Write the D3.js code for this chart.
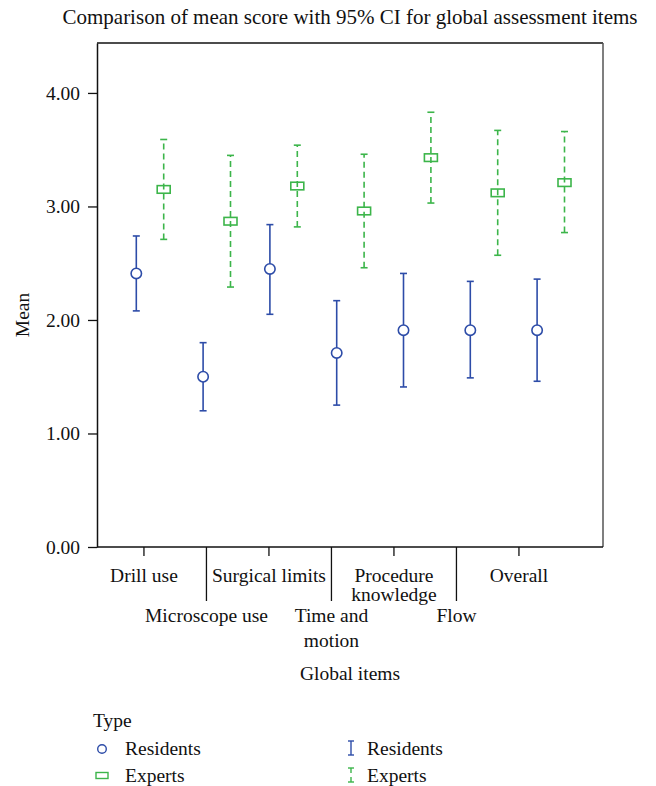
<!DOCTYPE html>
<html>
<head>
<meta charset="utf-8">
<script src="https://cdn.jsdelivr.net/npm/d3@7"></script>
<style>
  body { margin: 0; background: #fff; }
  text { font-family: "Liberation Serif", "DejaVu Serif", serif; fill: #111; }
</style>
</head>
<body>
<script>
// data
const items = ["Drill use", "Microscope use", "Surgical limits", "Time and motion",
  "Procedure knowledge", "Flow", "Overall"];
const itemLabels = [["Drill use"], ["Microscope use"], ["Surgical limits"], ["Time and", "motion"],
  ["Procedure", "knowledge"], ["Flow"], ["Overall"]];
const residentsMean = [2.41, 1.50, 2.45, 1.71, 1.91, 1.91, 1.91];
const residentsLow = [2.08, 1.20, 2.05, 1.25, 1.41, 1.49, 1.46];
const residentsHigh = [2.74, 1.80, 2.84, 2.17, 2.41, 2.34, 2.36];
const expertsMean = [3.15, 2.87, 3.18, 2.96, 3.43, 3.12, 3.21];
const expertsLow = [2.71, 2.29, 2.82, 2.46, 3.03, 2.57, 2.77];
const expertsHigh = [3.59, 3.45, 3.54, 3.46, 3.83, 3.67, 3.66];
const yTicks = [0, 1, 2, 3, 4];

const blue = "#2d4ca8";
const green = "#3cb54a";
const fs = "19.5px";

const width = 656;
const height = 786;
const plotLeft = 97, plotRight = 603, plotTop = 43, plotBottom = 547;

const svg = d3.select("body").append("svg")
  .attr("width", width)
  .attr("height", height);

// scales
const y = d3.scaleLinear().domain([0, 4.44]).range([plotBottom, plotTop]);
// marks sit on a slightly wider band than the axis labels (as in the original)
const xMarks = d3.scaleBand().domain(items).range([116.6, 584.2]);
const xAxis = d3.scaleBand().domain(items).range([112.7, 550.2]);
const offset = 13.7;

// title
svg.append("text")
  .attr("x", 350).attr("y", 24)
  .attr("text-anchor", "middle")
  .style("font-size", "21px")
  .text("Comparison of mean score with 95% CI for global assessment items");

// frame
svg.append("line").attr("x1", plotLeft).attr("x2", plotRight).attr("y1", plotTop).attr("y2", plotTop)
  .attr("stroke", "#111").attr("stroke-width", 1.5);
svg.append("line").attr("x1", plotRight).attr("x2", plotRight).attr("y1", plotTop).attr("y2", plotBottom)
  .attr("stroke", "#555").attr("stroke-width", 1.5);

// y axis
const yAxisG = svg.append("g").attr("transform", `translate(${plotLeft},0)`)
  .call(d3.axisLeft(y).tickValues(yTicks).tickFormat(d3.format(".2f"))
    .tickSize(9).tickSizeOuter(0).tickPadding(8));
yAxisG.select(".domain").attr("stroke", "#111").attr("stroke-width", 1.5);
yAxisG.selectAll(".tick line").attr("stroke", "#111").attr("stroke-width", 1.3);
yAxisG.selectAll(".tick text").style("font-size", fs)
  .style("font-family", "'Liberation Serif', serif").attr("fill", "#111");

svg.append("text")
  .attr("transform", `translate(29,${(plotTop + plotBottom) / 2 + 20}) rotate(-90)`)
  .attr("text-anchor", "middle")
  .style("font-size", fs)
  .text("Mean");

// x axis
svg.append("line").attr("x1", plotLeft).attr("x2", plotRight).attr("y1", plotBottom).attr("y2", plotBottom)
  .attr("stroke", "#111").attr("stroke-width", 1.5);

const xg = svg.append("g").selectAll("g")
  .data(items)
  .join("g")
  .attr("transform", (d) => `translate(${xAxis(d) + xAxis.bandwidth() / 2},${plotBottom})`);

xg.append("line")
  .attr("y1", 0)
  .attr("y2", (d, i) => (i % 2 ? 54 : 9))
  .attr("stroke", "#111").attr("stroke-width", 1.3);

xg.append("text")
  .attr("text-anchor", "middle")
  .attr("y", (d, i) => (i % 2 ? 75 : 35))
  .style("font-size", fs)
  .each(function (d, i) {
    d3.select(this).selectAll("tspan")
      .data(itemLabels[i])
      .join("tspan")
      .attr("x", 0)
      .attr("dy", (t, j) => (j === 0 ? 0 : i % 2 ? 25 : 19))
      .text((t) => t);
  });

svg.append("text")
  .attr("x", 350).attr("y", 680)
  .attr("text-anchor", "middle")
  .style("font-size", fs)
  .text("Global items");

// error bars
const series = [
  { name: "Residents", mean: residentsMean, low: residentsLow, high: residentsHigh, color: blue, dx: -offset, dash: null },
  { name: "Experts", mean: expertsMean, low: expertsLow, high: expertsHigh, color: green, dx: offset, dash: "6,4" }
];

series.forEach((s) => {
  const g = svg.append("g");
  const cx = (i) => xMarks(items[i]) + xMarks.bandwidth() / 2 + s.dx;
  const idx = d3.range(items.length);

  g.selectAll(".bar").data(idx).join("line")
    .attr("class", "bar")
    .attr("x1", cx).attr("x2", cx)
    .attr("y1", (i) => y(s.low[i])).attr("y2", (i) => y(s.high[i]))
    .attr("stroke", s.color).attr("stroke-width", 1.6)
    .attr("stroke-dasharray", s.dash);

  ["low", "high"].forEach((k) => {
    g.selectAll(".cap-" + k).data(idx).join("line")
      .attr("class", "cap-" + k)
      .attr("x1", (i) => cx(i) - 3.5).attr("x2", (i) => cx(i) + 3.5)
      .attr("y1", (i) => y(s[k][i])).attr("y2", (i) => y(s[k][i]))
      .attr("stroke", s.color).attr("stroke-width", 1.6);
  });

  if (s.name === "Residents") {
    g.selectAll("circle").data(idx).join("circle")
      .attr("cx", cx).attr("cy", (i) => y(s.mean[i])).attr("r", 5.2)
      .attr("fill", "#fff").attr("stroke", s.color).attr("stroke-width", 1.6);
  } else {
    g.selectAll("rect").data(idx).join("rect")
      .attr("x", (i) => cx(i) - 6.5).attr("y", (i) => y(s.mean[i]) - 3.8)
      .attr("width", 13).attr("height", 7.6)
      .attr("fill", "none").attr("stroke", s.color).attr("stroke-width", 1.6);
  }
});

// legend
const legend = svg.append("g");
legend.append("text").attr("x", 93).attr("y", 727).style("font-size", fs).text("Type");

legend.append("circle").attr("cx", 102).attr("cy", 749).attr("r", 4.3)
  .attr("fill", "none").attr("stroke", blue).attr("stroke-width", 1.4);
legend.append("text").attr("x", 125).attr("y", 755).style("font-size", fs).text("Residents");

legend.append("rect").attr("x", 96).attr("y", 772.5).attr("width", 12).attr("height", 6)
  .attr("fill", "none").attr("stroke", green).attr("stroke-width", 1.4);
legend.append("text").attr("x", 125).attr("y", 782).style("font-size", fs).text("Experts");

// I-beam symbols
const ib = legend.append("g").attr("transform", "translate(351,0)");
ib.append("line").attr("x1", 0).attr("x2", 0).attr("y1", 741).attr("y2", 755).attr("stroke", blue).attr("stroke-width", 1.4);
ib.append("line").attr("x1", -3).attr("x2", 3).attr("y1", 741).attr("y2", 741).attr("stroke", blue).attr("stroke-width", 1.4);
ib.append("line").attr("x1", -3).attr("x2", 3).attr("y1", 755).attr("y2", 755).attr("stroke", blue).attr("stroke-width", 1.4);
legend.append("text").attr("x", 367).attr("y", 755).style("font-size", fs).text("Residents");

ib.append("line").attr("x1", 0).attr("x2", 0).attr("y1", 768).attr("y2", 782)
  .attr("stroke", green).attr("stroke-width", 1.4).attr("stroke-dasharray", "5,4");
ib.append("line").attr("x1", -3).attr("x2", 3).attr("y1", 768).attr("y2", 768).attr("stroke", green).attr("stroke-width", 1.4);
ib.append("line").attr("x1", -3).attr("x2", 3).attr("y1", 782).attr("y2", 782).attr("stroke", green).attr("stroke-width", 1.4);
legend.append("text").attr("x", 367).attr("y", 782).style("font-size", fs).text("Experts");
</script>
</body>
</html>
